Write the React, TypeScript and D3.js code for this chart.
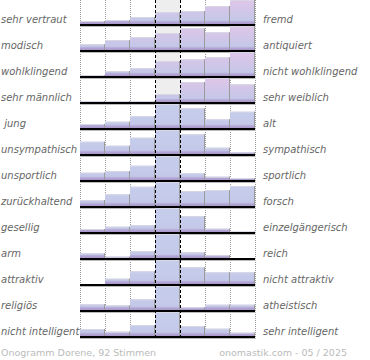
import * as d3 from "d3";

const leftLabels = [
  "sehr vertraut", "modisch", "wohlklingend", "sehr männlich", " jung",
  "unsympathisch", "unsportlich", "zurückhaltend", "gesellig", "arm",
  "attraktiv", "religiös", "nicht intelligent",
];
const rightLabels = [
  "fremd", "antiquiert", "nicht wohlklingend", "sehr weiblich", "alt",
  "sympathisch", "sportlich", "forsch", "einzelgängerisch", "reich",
  "nicht attraktiv", "atheistisch", "sehr intelligent",
];
// share of votes per answer (7 steps); center often over the top
const votes = [
  [4, 5, 8, 12.7, 14, 19, 27],
  [6.7, 11, 14, 18, 22.7, 18.7, 26],
  [2, 6, 8.7, 16, 17.7, 19.7, 27],
  [2, 2, 2, 9, 21, 26, 18.7],
  [5, 7.3, 13, 40, 20.7, 9.7, 17.3],
  [13.3, 9.3, 17.3, 38, 20.7, 7.3, 2.7],
  [8.3, 10, 15.3, 45, 7.7, 4.3, 3],
  [7, 12.7, 20.3, 30, 16, 17, 21],
  [4, 6.3, 7.7, 50, 17, 4.3, 1.3],
  [5.7, 2.3, 8, 60, 6.7, 3.7, 0.7],
  [0, 6.3, 13.7, 36, 17.7, 12.7, 12.7],
  [6.7, 5.7, 11.7, 55, 3.7, 6.3, 6.3],
  [8, 5.3, 12, 45, 11, 8.3, 4.3],
];
const nameGroupRows = 4;
const footerLeft = "Onogramm Dorene, 92 Stimmen";
const footerRight = "onomastik.com - 05 / 2025";

const W = 370;
const H = 360;
const plotLeft = 80;
const plotRight = 255;
const font = "'DejaVu Sans', sans-serif";

export default function App() {
  const steps = d3.range(7);
  const x = d3.scaleBand<number>().domain(steps).range([plotLeft, plotRight]).padding(0);
  const row = d3.scaleBand<number>().domain(d3.range(leftLabels.length)).range([-1, 337]).padding(0);
  const h = d3.scaleLinear().domain([0, 25]).range([0, 25]).clamp(true);

  const bottom = row(leftLabels.length - 1)! + row.bandwidth();

  return (
    <svg
      width={W}
      height={H}
      style={{ position: "fixed", top: 0, left: 0, background: "#fff" }}
      fontFamily={font}
    >
      <defs>
        {votes.map((_, i) => {
          const base = row(i)! + row.bandwidth();
          const pink = i < nameGroupRows;
          return (
            <linearGradient
              key={i}
              id={`g${i}`}
              gradientUnits="userSpaceOnUse"
              x1={0}
              x2={0}
              y1={base - 26}
              y2={base}
            >
              <stop offset="0" stopColor={pink ? "#e0c6e8" : "#c6cdeb"} />
              <stop offset="0.55" stopColor={pink ? "#cec6e8" : "#c5cbea"} />
              <stop offset="0.82" stopColor="#c4c8e8" />
              <stop offset="0.88" stopColor="#b4a7d6" />
              <stop offset="1" stopColor="#a292c4" />
            </linearGradient>
          );
        })}
      </defs>

      {/* neutral column background */}
      <rect x={x(3)} y={0} width={x.bandwidth()} height={bottom} fill="#eeeeee" />

      {/* dotted column lines */}
      {d3.range(8).map((k) => {
        const xx = plotLeft + k * x.bandwidth() + 0.5;
        if (k === 3 || k === 4) return null;
        return (
          <line key={k} x1={xx} x2={xx} y1={0} y2={bottom} stroke="#999" strokeDasharray="1,1" />
        );
      })}

      {votes.map((vals, i) => {
        const base = row(i)! + row.bandwidth();
        return (
          <g key={i}>
            {vals.map((v, j) => {
              const bh = h(v);
              if (bh <= 0) return null;
              const x0 = x(j)!;
              return (
                <g key={j}>
                  <rect x={x0} y={base - bh} width={x.bandwidth()} height={bh} fill={`url(#g${i})`} />
                  <line x1={x0} x2={x0 + x.bandwidth()} y1={base - bh + 0.5} y2={base - bh + 0.5} stroke="#d6d6e4" />
                  <line
                    x1={x0 + x.bandwidth() - 0.5}
                    x2={x0 + x.bandwidth() - 0.5}
                    y1={base - bh}
                    y2={base}
                    stroke="#9a9a9a"
                  />
                </g>
              );
            })}
            <line x1={plotLeft} x2={plotRight + 1} y1={base + 1.5} y2={base + 1.5} stroke="#bbb" />
            <line x1={plotLeft} x2={plotRight} y1={base} y2={base} stroke="#000" strokeWidth={2} />
            <text
              x={1}
              y={base - 2}
              fontSize={10}
              fontStyle="italic"
              fill="#666"
              style={{ whiteSpace: "pre" }}
            >
              {leftLabels[i]}
            </text>
            <text x={263} y={base - 2} fontSize={10} fontStyle="italic" fill="#666">
              {rightLabels[i]}
            </text>
          </g>
        );
      })}

      {/* neutral column borders */}
      {[3, 4].map((k) => {
        const xx = plotLeft + k * x.bandwidth() + 0.5;
        return (
          <line key={k} x1={xx} x2={xx} y1={0} y2={bottom} stroke="#000" strokeDasharray="3,2" />
        );
      })}

      <text x={1} y={356} fontSize={9.5} fill="#bbb">
        {footerLeft}
      </text>
      <text x={347} y={356} fontSize={9.5} fill="#bbb" textAnchor="end">
        {footerRight}
      </text>
    </svg>
  );
}
